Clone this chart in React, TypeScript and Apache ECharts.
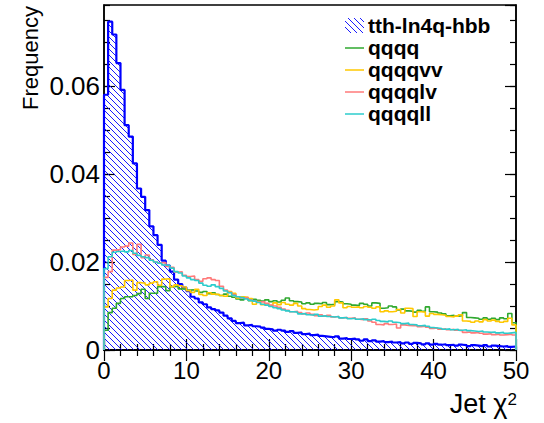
import React, { useEffect, useRef } from "react";
import * as echarts from "echarts";

const binWidth = 0.5;
const xTicks = [0, 10, 20, 30, 40, 50];
const yTicks = [0, 0.02, 0.04, 0.06];
const seriesNames = ["tth-ln4q-hbb", "qqqq", "qqqqvv", "qqqqlv", "qqqqll"];

const tthValues = [
  0.058, 0.0746, 0.0717, 0.0652, 0.0591, 0.0511, 0.0485, 0.0424, 0.0367, 0.0348,
  0.0318, 0.0281, 0.0261, 0.0239, 0.0203, 0.0192, 0.0178, 0.016, 0.015, 0.0142,
  0.0134, 0.0121, 0.0117, 0.0108, 0.0104, 0.0097, 0.0093, 0.009, 0.0085, 0.0078,
  0.0072, 0.0066, 0.0061, 0.0062, 0.0056, 0.0057, 0.0054, 0.0053, 0.0051, 0.0048,
  0.0047, 0.0044, 0.0046, 0.0044, 0.0041, 0.0043, 0.0039, 0.004, 0.0036, 0.0037,
  0.0034, 0.0035, 0.0032, 0.0031, 0.003, 0.0029, 0.0031, 0.0026, 0.0027, 0.0025,
  0.0026, 0.0024, 0.0021, 0.0024, 0.002, 0.0022, 0.0019, 0.002, 0.0018, 0.0019,
  0.0017, 0.0018, 0.0015, 0.0017, 0.0014, 0.0016, 0.0015, 0.0013, 0.0015, 0.0012,
  0.0014, 0.0012, 0.0013, 0.0011, 0.0012, 0.001, 0.0012, 0.0011, 0.0009, 0.0011,
  0.001, 0.0009, 0.0011, 0.0008, 0.001, 0.0009, 0.0008, 0.0009, 0.0007, 0.0008,
];

const qqqqValues = [
  0.0045, 0.0085, 0.0095, 0.0106, 0.0117, 0.0121, 0.0121, 0.0124, 0.0128, 0.0138,
  0.0117, 0.0129, 0.0129, 0.0144, 0.0144, 0.0135, 0.0144, 0.0145, 0.0139, 0.0138,
  0.0136, 0.0137, 0.0134, 0.0131, 0.0133, 0.0128, 0.013, 0.0126, 0.0124, 0.0127,
  0.0122, 0.012, 0.0116, 0.0114, 0.0118, 0.0112, 0.0115, 0.0113, 0.0111, 0.0114,
  0.011, 0.0112, 0.0109, 0.0113, 0.0118, 0.0112, 0.011, 0.0109, 0.0105, 0.0107,
  0.0104, 0.0106, 0.0105, 0.0108, 0.0103, 0.0104, 0.011, 0.0109, 0.0105, 0.0104,
  0.0102, 0.0101, 0.0106, 0.0104, 0.01, 0.0107, 0.0106, 0.0095, 0.0096, 0.01,
  0.0098, 0.0091, 0.0093, 0.0089, 0.0088, 0.0086, 0.009, 0.0088, 0.0098, 0.0087,
  0.0086, 0.0084, 0.0082, 0.0078, 0.0079, 0.0077, 0.0078, 0.0085, 0.0074, 0.0073,
  0.0072, 0.007, 0.0073, 0.007, 0.0072, 0.0069, 0.0073, 0.0071, 0.0083, 0.0062,
];

const qqqqvvValues = [
  0.0098, 0.0117, 0.0136, 0.0141, 0.0143, 0.0158, 0.0159, 0.0136, 0.0153, 0.0152,
  0.0148, 0.0152, 0.0155, 0.0147, 0.0161, 0.0162, 0.0144, 0.0148, 0.0146, 0.0143,
  0.0135, 0.0131, 0.0138, 0.0126, 0.0124, 0.013, 0.0127, 0.0126, 0.0124, 0.0122,
  0.0133, 0.0129, 0.0118, 0.0121, 0.012, 0.0117, 0.0104, 0.011, 0.0103, 0.0105,
  0.0101, 0.0107, 0.0103, 0.0108, 0.0104, 0.0102, 0.0106, 0.01, 0.0094, 0.0092,
  0.0091, 0.0092, 0.0099, 0.0102, 0.0097, 0.01, 0.0114, 0.0107, 0.0096, 0.0099,
  0.0097, 0.0098, 0.0096, 0.0099, 0.0097, 0.0095, 0.0098, 0.0087, 0.0089, 0.0087,
  0.0088, 0.0092, 0.0084, 0.0095, 0.0094, 0.0076, 0.0087, 0.0086, 0.0077, 0.0083,
  0.0081, 0.008, 0.0079, 0.0076, 0.0075, 0.0077, 0.008, 0.0066, 0.0065, 0.0063,
  0.0066, 0.0064, 0.0069, 0.0066, 0.0068, 0.0065, 0.0063, 0.0065, 0.0072, 0.0057,
];

const qqqqlvValues = [
  0.0165, 0.0178, 0.0227, 0.0228, 0.0234, 0.0236, 0.0243, 0.0217, 0.024, 0.021,
  0.0216, 0.0205, 0.02, 0.0198, 0.0199, 0.019, 0.0188, 0.0177, 0.0178, 0.017,
  0.0167, 0.0168, 0.016, 0.0156, 0.0162, 0.0164, 0.016, 0.0158, 0.0145, 0.0136,
  0.0131, 0.0126, 0.0121, 0.0118, 0.0119, 0.0114, 0.0112, 0.0109, 0.011, 0.0106,
  0.0102, 0.01, 0.0097, 0.0093, 0.009, 0.0087, 0.0088, 0.0085, 0.0082, 0.0084,
  0.0081, 0.0078, 0.008, 0.0077, 0.0079, 0.0075, 0.0076, 0.0073, 0.0074, 0.0072,
  0.0073, 0.007, 0.0069, 0.0071, 0.0066, 0.0063, 0.0058, 0.0057, 0.006, 0.0058,
  0.0059, 0.005, 0.0057, 0.0056, 0.0055, 0.0056, 0.0053, 0.0054, 0.0052, 0.0049,
  0.005, 0.0047, 0.0048, 0.0046, 0.0047, 0.0045, 0.0044, 0.004, 0.0041, 0.0039,
  0.004, 0.0038, 0.0036, 0.0037, 0.0035, 0.0036, 0.0034, 0.0035, 0.0036, 0.0034,
];

const qqqqllValues = [
  0.0185, 0.0212, 0.0222, 0.0224, 0.0225, 0.0223, 0.0226, 0.022, 0.0215, 0.0212,
  0.021, 0.0204, 0.02, 0.0197, 0.0193, 0.0192, 0.0186, 0.0178, 0.0175, 0.0168,
  0.0164, 0.016, 0.0158, 0.0152, 0.0147, 0.0145, 0.0148, 0.0144, 0.014, 0.0134,
  0.013, 0.0124, 0.0121, 0.0119, 0.0116, 0.0113, 0.0111, 0.0108, 0.0104, 0.0102,
  0.0099, 0.0096, 0.0094, 0.0091, 0.0089, 0.0087, 0.0086, 0.0082, 0.0083, 0.008,
  0.0079, 0.0081, 0.0077, 0.0078, 0.0076, 0.0075, 0.0076, 0.0073, 0.0074, 0.0071,
  0.0072, 0.007, 0.0071, 0.0069, 0.0068, 0.007, 0.0067, 0.0065, 0.0064, 0.0066,
  0.0063, 0.0062, 0.006, 0.0061, 0.0058, 0.0057, 0.0055, 0.0056, 0.0054, 0.0051,
  0.005, 0.0049, 0.0047, 0.0048, 0.0046, 0.0047, 0.0045, 0.0046, 0.0044, 0.0043,
  0.0042, 0.0043, 0.0041, 0.004, 0.0041, 0.0039, 0.004, 0.0038, 0.0039, 0.004,
];

const colors = ["#0000ff", "#2fa82f", "#ffc800", "#ff7a7a", "#2ccccc"];
const FONT = "'Liberation Sans', Arial, Helvetica, sans-serif";

function stepData(vals: number[]): number[][] {
  const pts: number[][] = [[0, 0]];
  vals.forEach((v, i) => pts.push([i * binWidth, v]));
  pts.push([vals.length * binWidth, vals[vals.length - 1]]);
  pts.push([vals.length * binWidth, 0]);
  return pts;
}

function makeHatch(): string {
  const c = document.createElement("canvas");
  const s = 6;
  c.width = s;
  c.height = s;
  const ctx = c.getContext("2d")!;
  ctx.strokeStyle = "#0000ff";
  ctx.lineWidth = 0.9;
  for (const off of [-s, 0, s]) {
    ctx.beginPath();
    ctx.moveTo(0, off);
    ctx.lineTo(s, off + s);
    ctx.stroke();
  }
  return c.toDataURL();
}

export default function App() {
  const ref = useRef<HTMLDivElement>(null);
  useEffect(() => {
    if (!ref.current) return;
    const chart = echarts.init(ref.current, undefined, { renderer: "svg" });
    const hatch = { image: makeHatch(), imageWidth: 6, imageHeight: 6, repeat: "repeat" };
    const allVals = [tthValues, qqqqValues, qqqqvvValues, qqqqlvValues, qqqqllValues];
    const yMax = 0.0784;
    const tickStyle = { color: "#000", width: 1.2 };
    const baseX = {
      type: "value",
      min: 0,
      max: 50,
      interval: 10,
      axisLine: { show: true, lineStyle: { color: "#000", width: 1.5 } },
      axisTick: { show: true, inside: true, length: 11, lineStyle: tickStyle },
      minorTick: { show: true, splitNumber: 5, length: 6, lineStyle: tickStyle },
      splitLine: { show: false },
      minorSplitLine: { show: false },
    };
    const mkY = (pos: string, interval: number, len: number, labels: boolean, line: boolean) => ({
      type: "value",
      min: 0,
      max: yMax,
      interval,
      position: pos,
      axisLine: { show: line, onZero: false, lineStyle: { color: "#000", width: 1.5 } },
      axisTick: { show: true, inside: true, length: len, lineStyle: tickStyle },
      splitLine: { show: false },
      axisLabel: labels
        ? {
            show: true,
            showMaxLabel: false,
            fontSize: 26,
            color: "#000",
            fontFamily: FONT,
            margin: 4,
            formatter: (v: number) => (yTicks.some((t) => Math.abs(t - v) < 1e-9) ? (v === 0 ? "0" : v.toFixed(2)) : ""),
          }
        : { show: false },
    });
    const rowY = [25, 47, 69, 91, 113];
    const legendGraphics: any[] = [];
    seriesNames.forEach((name, i) => {
      if (i === 0) {
        legendGraphics.push({
          type: "rect",
          shape: { x: 345, y: rowY[i] - 7, width: 19, height: 15 },
          style: { fill: hatch as any, stroke: null },
          z: 100,
        });
      } else {
        legendGraphics.push({
          type: "line",
          shape: { x1: 345, y1: rowY[i] + 1, x2: 364, y2: rowY[i] + 1 },
          style: { stroke: colors[i], lineWidth: 1.5 },
          z: 100,
        });
      }
      legendGraphics.push({
        type: "text",
        x: 368,
        y: rowY[i],
        style: {
          text: name,
          fontSize: 21,
          fontWeight: "bold",
          fontFamily: FONT,
          fill: "#000",
          verticalAlign: "middle",
          align: "left",
        },
        z: 100,
      });
    });
    const option: any = {
      animation: false,
      backgroundColor: "#fff",
      grid: { left: 104, right: 28, top: 5, bottom: 73, show: true, borderColor: "#000", borderWidth: 1.5, backgroundColor: "transparent" },
      xAxis: [
        {
          ...baseX,
          position: "bottom",
          axisLabel: {
            show: true,
            fontSize: 24,
            color: "#000",
            fontFamily: FONT,
            margin: 8,
            formatter: (v: number) => (xTicks.includes(v) ? String(v) : ""),
          },
        },
        { ...baseX, position: "top", axisLabel: { show: false } },
      ],
      yAxis: [
        mkY("left", 0.02, 11, true, true),
        mkY("left", 0.005, 6, false, false),
        mkY("right", 0.02, 11, false, true),
        mkY("right", 0.005, 6, false, false),
      ],
      series: allVals.map((vals, i) => ({
        name: seriesNames[i],
        type: "line",
        step: "end",
        data: stepData(vals),
        xAxisIndex: 0,
        yAxisIndex: 0,
        showSymbol: false,
        symbol: "none",
        clip: true,
        lineStyle: { color: colors[i], width: i === 0 ? 2.2 : 1.6 },
        itemStyle: { color: colors[i] },
        areaStyle: i === 0 ? { color: hatch, opacity: 1 } : undefined,
        z: 2 + i,
      })),
      graphic: [
        ...legendGraphics,
        {
          type: "text",
          x: 30,
          y: 6,
          rotation: Math.PI / 2,
          style: {
            text: "Frequency",
            fontSize: 22,
            fontFamily: FONT,
            fill: "#000",
            align: "right",
            verticalAlign: "middle",
          },
        },
        {
          type: "text",
          x: 517,
          y: 404,
          style: {
            text: "Jet χ{sup|2}",
            fontSize: 27,
            fontFamily: FONT,
            fill: "#000",
            align: "right",
            verticalAlign: "middle",
            rich: {
              sup: { fontSize: 17, fontFamily: FONT, fill: "#000", verticalAlign: "top", padding: [0, 0, 10, 0] },
            },
          },
        },
      ],
    };
    chart.setOption(option);
    return () => chart.dispose();
  }, []);
  return <div ref={ref} style={{ position: "fixed", left: 0, top: 0, width: 544, height: 423 }} />;
}
